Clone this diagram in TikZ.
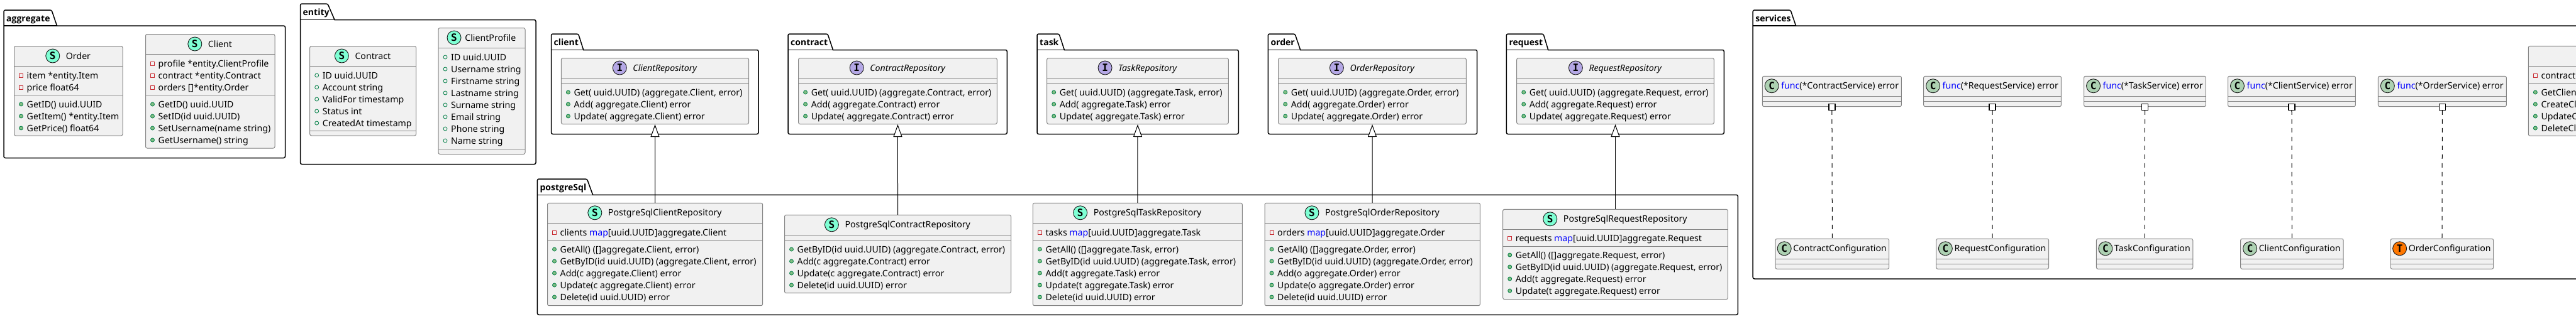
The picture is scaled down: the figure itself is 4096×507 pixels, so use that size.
\documentclass[tikz,border=0pt]{standalone}
\usepackage{fontspec}
\setmainfont{Noto Sans}
\newfontfamily\iconfont{DejaVu Sans Mono}
\newfontfamily\pkgfont{Open Sans}
\usetikzlibrary{arrows.meta,calc}
\definecolor{clsfill}{HTML}{F1F1F1}
\definecolor{clsline}{HTML}{858585}
\definecolor{icS}{HTML}{7FFFD4}
\definecolor{icC}{HTML}{ADD1B2}
\definecolor{icI}{HTML}{B4A7E5}
\definecolor{icT}{HTML}{FF7700}
\definecolor{privred}{HTML}{C82930}
\definecolor{pubfill}{HTML}{84BE84}
\definecolor{publine}{HTML}{038048}
\definecolor{kw}{HTML}{0000FF}
\newcount\memcount
\tikzset{
  pkgline/.style={draw=black,line width=1.5pt,rounded corners=2.5pt,fill=white},
  pkgtitle/.style={anchor=west,inner sep=0pt,font=\pkgfont\fontsize{14}{16}\selectfont\bfseries,text height=11pt,text depth=1pt},
  classbox/.style={draw=clsline,fill=clsfill,line width=1pt,rounded corners=2.5pt,inner sep=0pt,rectangle},
  clsdiv/.style={draw=clsline,line width=1pt},
  clstitle/.style={inner sep=0pt,font=\fontsize{14.15}{16}\selectfont,text height=11pt,text depth=1pt},
  memtext/.style={anchor=west,inner sep=0pt,font=\fontsize{14.15}{16}\selectfont,text height=11pt,text depth=1pt},
  classicon/.style={circle,draw=black!90,line width=.9pt,minimum size=22pt,inner sep=0pt,anchor=east,font=\iconfont\fontsize{16}{16}\selectfont\bfseries},
  privmark/.style={rectangle,draw=privred,fill=clsfill,line width=1pt,minimum size=6pt,inner sep=0pt},
  pubmeth/.style={circle,draw=publine,fill=pubfill,line width=.8pt,minimum size=6pt,inner sep=0pt},
  pubfield/.style={circle,draw=publine,fill=clsfill,line width=.8pt,minimum size=6pt,inner sep=0pt},
  implline/.style={draw=black,line width=1pt,-{Triangle[fill=white,length=20pt,width=14pt]}},
  dashline/.style={draw=black,line width=1pt,dash pattern=on 7pt off 7pt},
  lollibox/.style={rectangle,draw=black,fill=white,line width=1.2pt,minimum size=10pt,inner sep=0pt},
}
% package: name x1 x2 tabtop bodytop bottom tabRtop tabRbot
\newcommand{\pkg}[8]{%
  \draw[pkgline] (#2,#5) -- (#2,#4) -- (#7,#4) [sharp corners] -- (#8,#5) [rounded corners=2.5pt] -- (#3,#5) -- (#3,#6) -- (#2,#6) -- cycle;
  \draw[black,line width=1.5pt] (#2,#5) -- (#8,#5);
  \node[pkgtitle] (pkg-#1) at ({#2+4},{#5-12}) {#1};
}
% class: name x1 y1 x2 y2 divider
\newcommand{\cls}[6]{%
  \node[classbox,minimum width={(#4-#2)*1pt},minimum height={(#5-#3)*1pt}] (#1) at ({(#2+#4)/2},{(#3+#5)/2}) {};
  \draw[clsdiv] (#2,#3+32) -- (#4,#3+32);
  \draw[clsdiv] (#2,#6) -- (#4,#6);
  \xdef\bx{#2}\xdef\bn{#1}%
}
% title: letter color gap text
\newcommand{\ttl}[4]{%
  \node[clstitle] (\bn-title) at ($(\bn.north)+({(22+#3)/2},16)$) {#4};
  \node[classicon,fill=#2] (\bn-icon) at ($(\bn-title.west)+(-#3,0)$) {#1};
}
\newcommand{\mem}[3]{%
  \global\advance\memcount by 1
  \node[#1] (mk\the\memcount) at ({\bx+11},#2) {};
  \node[memtext] (mt\the\memcount) at ({\bx+20},#2) {#3};
}
\newcommand{\fp}[2]{\mem{privmark}{#1}{#2}}
\newcommand{\fo}[2]{\mem{pubfield}{#1}{#2}}
\newcommand{\mt}[2]{\mem{pubmeth}{#1}{#2}}
\newcommand{\mapk}{\textcolor{kw}{map}}
\newcommand{\fnk}{\textcolor{kw}{func}}
\begin{document}
\begin{tikzpicture}[x=1pt,y=-1pt]
\useasboundingbox (0,0) rectangle (4096,507);
\clip (0,0) rectangle (4096,507);
\fill[white] (0,0) rectangle (4096,507);
% packages
\pkg{aggregate}{6}{453.5}{16}{41}{251.5}{82}{90.5}
\pkg{entity}{477.5}{852}{6}{31.5}{261.5}{521}{532}
\pkg{client}{876.5}{1206}{54}{79.5}{213.5}{919.6}{927.7}
\pkg{contract}{1253}{1601.3}{54}{79.5}{213.5}{1316}{1324.5}
\pkg{task}{1649}{1969.3}{54}{79.5}{213.5}{1684}{1692.4}
\pkg{order}{2016.3}{2348.7}{54}{79.5}{213.5}{2059}{2067.7}
\pkg{request}{2395.3}{2741.3}{54}{79.5}{213.5}{2454}{2461.7}
\pkg{postgreSql}{854.4}{2763.4}{285}{310.3}{501.3}{933.4}{942.6}
\pkg{services}{2787.2}{4400}{16}{41}{444}{2847}{2855.5}
% aggregate
\cls{order}{22.5}{73.5}{195}{216}{151.5}
\ttl{S}{icS}{9.5}{Order}
\fp{120}{item *entity.Item}
\fp{139}{price float64}
\mt{166}{GetID() uuid.UUID}
\mt{185}{GetItem() *entity.Item}
\mt{204}{GetPrice() float64}
\cls{clientc}{231.5}{54.5}{437}{236}{151.5}
\ttl{S}{icS}{9.5}{Client}
\fp{101}{profile *entity.ClientProfile}
\fp{120}{contract *entity.Contract}
\fp{139}{orders []*entity.Order}
\mt{166}{GetID() uuid.UUID}
\mt{185}{SetID(id uuid.UUID)}
\mt{204}{SetUsername(name string)}
\mt{223}{GetUsername() string}
% entity
\cls{contractc}{492.7}{73.5}{661.6}{216}{208.5}
\ttl{S}{icS}{9.5}{Contract}
\fo{120}{ID uuid.UUID}
\fo{139}{Account string}
\fo{158}{ValidFor timestamp}
\fo{177}{Status int}
\fo{196}{CreatedAt timestamp}
\cls{profile}{697}{44.5}{835}{245.5}{237.5}
\ttl{S}{icS}{5.7}{ClientProfile}
\fo{91}{ID uuid.UUID}
\fo{110}{Username string}
\fo{129}{Firstname string}
\fo{148}{Lastname string}
\fo{167}{Surname string}
\fo{186}{Email string}
\fo{205}{Phone string}
\fo{224}{Name string}
% repositories
\cls{clientrepo}{892.4}{92.5}{1190.6}{197.5}{132.5}
\ttl{I}{icI}{9.5}{\itshape ClientRepository}
\mt{147}{Get( uuid.UUID) (aggregate.Client, error)}
\mt{166}{Add( aggregate.Client) error}
\mt{185}{Update( aggregate.Client) error}
\cls{contractrepo}{1269.6}{92.5}{1585.3}{197.5}{132.5}
\ttl{I}{icI}{9.5}{\itshape ContractRepository}
\mt{147}{Get( uuid.UUID) (aggregate.Contract, error)}
\mt{166}{Add( aggregate.Contract) error}
\mt{185}{Update( aggregate.Contract) error}
\cls{taskrepo}{1664.7}{92.5}{1953.3}{197.5}{132.5}
\ttl{I}{icI}{9.5}{\itshape TaskRepository}
\mt{147}{Get( uuid.UUID) (aggregate.Task, error)}
\mt{166}{Add( aggregate.Task) error}
\mt{185}{Update( aggregate.Task) error}
\cls{orderrepo}{2032.7}{92.5}{2331.3}{197.5}{132.5}
\ttl{I}{icI}{9.5}{\itshape OrderRepository}
\mt{147}{Get( uuid.UUID) (aggregate.Order, error)}
\mt{166}{Add( aggregate.Order) error}
\mt{185}{Update( aggregate.Order) error}
\cls{requestrepo}{2411.7}{92.5}{2725.3}{197.5}{132.5}
\ttl{I}{icI}{9.5}{\itshape RequestRepository}
\mt{147}{Get( uuid.UUID) (aggregate.Request, error)}
\mt{166}{Add( aggregate.Request) error}
\mt{185}{Update( aggregate.Request) error}
% postgres
\cls{pgclient}{870.5}{323.3}{1212.6}{486.7}{382.3}
\ttl{S}{icS}{9.5}{PostgreSqlClientRepository}
\fp{370}{clients \mapk[uuid.UUID]aggregate.Client}
\mt{397}{GetAll() ([]aggregate.Client, error)}
\mt{416}{GetByID(id uuid.UUID) (aggregate.Client, error)}
\mt{435}{Add(c aggregate.Client) error}
\mt{454}{Update(c aggregate.Client) error}
\mt{473}{Delete(id uuid.UUID) error}
\cls{pgcontract}{1247.5}{342.3}{1607.5}{466.7}{382.3}
\ttl{S}{icS}{9.5}{PostgreSqlContractRepository}
\mt{397}{GetByID(id uuid.UUID) (aggregate.Contract, error)}
\mt{416}{Add(c aggregate.Contract) error}
\mt{435}{Update(c aggregate.Contract) error}
\mt{454}{Delete(id uuid.UUID) error}
\cls{pgtask}{1642.4}{323.3}{1975.3}{486.7}{382.3}
\ttl{S}{icS}{9.5}{PostgreSqlTaskRepository}
\fp{370}{tasks \mapk[uuid.UUID]aggregate.Task}
\mt{397}{GetAll() ([]aggregate.Task, error)}
\mt{416}{GetByID(id uuid.UUID) (aggregate.Task, error)}
\mt{435}{Add(t aggregate.Task) error}
\mt{454}{Update(t aggregate.Task) error}
\mt{473}{Delete(id uuid.UUID) error}
\cls{pgorder}{2011}{323.3}{2353.4}{486.7}{382.3}
\ttl{S}{icS}{9.5}{PostgreSqlOrderRepository}
\fp{370}{orders \mapk[uuid.UUID]aggregate.Order}
\mt{397}{GetAll() ([]aggregate.Order, error)}
\mt{416}{GetByID(id uuid.UUID) (aggregate.Order, error)}
\mt{435}{Add(o aggregate.Order) error}
\mt{454}{Update(o aggregate.Order) error}
\mt{473}{Delete(id uuid.UUID) error}
\cls{pgrequest}{2389.7}{333.3}{2747.3}{476.7}{392.3}
\ttl{S}{icS}{9.5}{PostgreSqlRequestRepository}
\fp{379.5}{requests \mapk[uuid.UUID]aggregate.Request}
\mt{406}{GetAll() ([]aggregate.Request, error)}
\mt{425}{GetByID(id uuid.UUID) (aggregate.Request, error)}
\mt{444}{Add(t aggregate.Request) error}
\mt{463}{Update(t aggregate.Request) error}
% services
\cls{fcontract}{2802.4}{121.3}{3023.4}{169.7}{161.3}
\ttl{C}{icC}{3.5}{\fnk(*ContractService) error}
\cls{frequest}{3058.7}{121.3}{3277.4}{169.7}{161.3}
\ttl{C}{icC}{3.5}{\fnk(*RequestService) error}
\cls{ftask}{3313.6}{121.3}{3507.4}{169.7}{161.3}
\ttl{C}{icC}{3.5}{\fnk(*TaskService) error}
\cls{fclient}{3542.5}{121.3}{3745.4}{169.7}{161.3}
\ttl{C}{icC}{3.5}{\fnk(*ClientService) error}
\cls{forder}{3781.4}{121.3}{3985.3}{169.7}{161.3}
\ttl{C}{icC}{3.5}{\fnk(*OrderService) error}
\cls{ccontract}{2823}{380.3}{3003.7}{428.3}{420.3}
\ttl{C}{icC}{2.5}{ContractConfiguration}
\cls{crequest}{3078.7}{380.3}{3257.6}{428.3}{420.3}
\ttl{C}{icC}{2.5}{RequestConfiguration}
\cls{ctask}{3333.4}{380.3}{3486.8}{428.3}{420.3}
\ttl{C}{icC}{2.5}{TaskConfiguration}
\cls{cclient}{3562.6}{380.3}{3726.2}{428.3}{420.3}
\ttl{C}{icC}{2.5}{ClientConfiguration}
\cls{corder}{3801.2}{380.3}{3964.7}{428.3}{420.3}
\ttl{T}{icT}{2.5}{OrderConfiguration}
\cls{svc}{4020.3}{73.3}{4400}{216.3}{132.3}
\fp{120}{contract}
\mt{147}{GetClien}
\mt{166}{CreateCl}
\mt{185}{UpdateC}
\mt{204}{DeleteCl}
% connectors
\draw[implline] (pgclient.north) -- (clientrepo.south);
\draw[implline] (pgcontract.north) -- (contractrepo.south);
\draw[implline] (pgtask.north) -- (taskrepo.south);
\draw[implline] (pgorder.north) -- (orderrepo.south);
\draw[implline] (pgrequest.north) -- (requestrepo.south);
\node[lollibox] (lcontract) at (fcontract.south) {};
\node[lollibox] (lrequest) at (frequest.south) {};
\node[lollibox] (ltask) at (ftask.south) {};
\node[lollibox] (lclient) at (fclient.south) {};
\node[lollibox] (lorder) at (forder.south) {};
\draw[dashline] (lcontract.south) -- (ccontract.north);
\draw[dashline] (lrequest.south) -- (crequest.north);
\draw[dashline] (ltask.south) -- (ctask.north);
\draw[dashline] (lclient.south) -- (cclient.north);
\draw[dashline] (lorder.south) -- (corder.north);
\end{tikzpicture}
\end{document}
